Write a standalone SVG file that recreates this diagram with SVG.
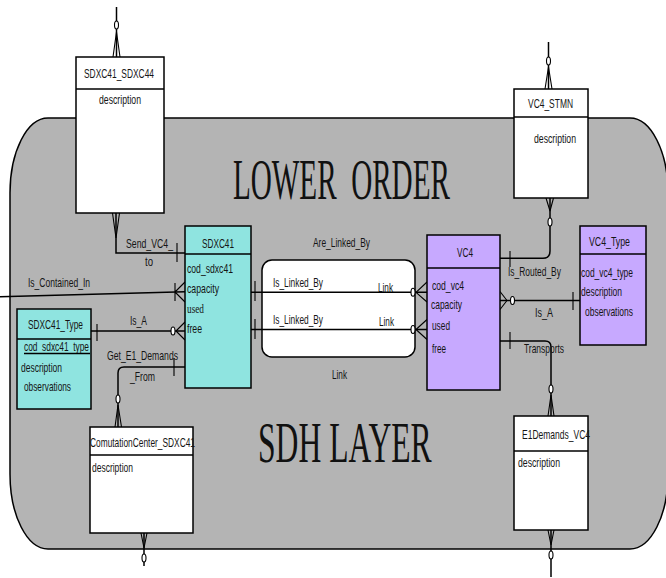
<svg xmlns="http://www.w3.org/2000/svg" width="666" height="578" viewBox="0 0 666 578">
<style>
.bx{stroke:#000;stroke-width:1.5}
.w{fill:#fff}.c{fill:#8fe4e0}.p{fill:#c7a9ff}
.t{font-family:"Liberation Sans",Arial,sans-serif;font-size:13px;fill:#151515}
.s{font-family:"Liberation Serif","Times New Roman",serif;font-size:13px;fill:#151515}
.big{font-family:"Liberation Serif","Times New Roman",serif;font-size:56px;fill:#111;white-space:pre}
.ln{fill:none;stroke:#000;stroke-width:1.5}
.th{fill:none;stroke:#000;stroke-width:1.1}
.o{fill:#fff;stroke:#000;stroke-width:1.1}
</style>
<g id="layer">
<path d="M48 118 H630 A38 75 0 0 1 668 193 V474 A38 75 0 0 1 630 549 H48 A38 75 0 0 1 10 474 V193 A38 75 0 0 1 48 118 Z" fill="#b4b4b4" stroke="#000" stroke-width="1.5"/>
<text class="big" transform="translate(233,199) scale(0.5205,1)" x="0" y="0" xml:space="preserve">LOWER  ORDER</text>
<text class="big" transform="translate(258,462) scale(0.565,1)" x="0" y="0">SDH LAYER</text>
</g>
<g id="Link">
<rect class="bx w" x="262" y="260" width="153" height="97" rx="10" ry="10"/>
<text class="t" x="313" y="246.5" textLength="57" lengthAdjust="spacingAndGlyphs">Are_Linked_By</text>
<text class="t" x="332" y="379" textLength="15" lengthAdjust="spacingAndGlyphs">Link</text>
</g>
<g id="connectors">
<path class="ln" d="M116.5 7 V57"/>
<path class="th" d="M116.5 32 L113 57 M116.5 32 L120 57"/>
<ellipse class="o" cx="116.5" cy="25" rx="2" ry="4"/>
<path class="ln" d="M116 213 V253 H185"/>
<path class="th" d="M116 238 L112.5 213 M116 238 L119.5 213"/>
<path class="th" d="M177 243 V262"/>
<text class="t" x="126" y="248" textLength="47" lengthAdjust="spacingAndGlyphs">Send_VC4_</text>
<text class="t" x="145" y="266" textLength="8" lengthAdjust="spacingAndGlyphs">to</text>
<path class="ln" d="M0 296.7 L185 291.7"/>
<path class="th" d="M175 292 L185 282 M175 292 L185 302 M175 283 V301"/>
<text class="t" x="28" y="287" textLength="62" lengthAdjust="spacingAndGlyphs">Is_Contained_In</text>
<path class="ln" d="M91 331 H185"/>
<path class="th" d="M97 324 V341 M176 331 L185 322 M176 331 L185 340"/>
<ellipse class="o" cx="173" cy="331" rx="2" ry="4"/>
<text class="t" x="130" y="325" textLength="17" lengthAdjust="spacingAndGlyphs">Is_A</text>
<path class="ln" d="M185 367 H124 Q118 367 118 373 V427"/>
<path class="th" d="M174 358 V376 M118 405 L115 427 M118 405 L121.5 427"/>
<ellipse class="o" cx="118" cy="399" rx="2" ry="4"/>
<text class="t" x="107" y="360" textLength="71" lengthAdjust="spacingAndGlyphs">Get_E1_Demands</text>
<text class="t" x="130" y="381" textLength="25" lengthAdjust="spacingAndGlyphs">_From</text>
<path class="ln" d="M144 533 V566"/>
<path class="th" d="M144 548 L141 533 M144 548 L147 533"/>
<ellipse class="o" cx="144" cy="558" rx="2" ry="4"/>
<path class="ln" d="M251 292.3 H427"/>
<path class="th" d="M255 281 V301 M416 292.3 L427 282 M416 292.3 L427 302"/>
<ellipse class="o" cx="413" cy="292.3" rx="2" ry="4"/>
<path class="ln" d="M251 329.5 H427"/>
<path class="th" d="M255 319 V339 M416 329.5 L427 319.5 M416 329.5 L427 339.5"/>
<ellipse class="o" cx="413" cy="329.5" rx="2" ry="4"/>
<text class="t" x="273" y="287" textLength="50" lengthAdjust="spacingAndGlyphs">Is_Linked_By</text>
<text class="t" x="378" y="291.5" textLength="15" lengthAdjust="spacingAndGlyphs">Link</text>
<text class="t" x="273" y="324" textLength="50" lengthAdjust="spacingAndGlyphs">Is_Linked_By</text>
<text class="t" x="379" y="326" textLength="15" lengthAdjust="spacingAndGlyphs">Link</text>
<path class="ln" d="M548.5 42 V89"/>
<path class="th" d="M548.5 67 L545 89 M548.5 67 L552 89"/>
<ellipse class="o" cx="548.5" cy="61" rx="2" ry="4"/>
<path class="ln" d="M500 258.3 H543 Q550 258.3 550 251 V198"/>
<path class="th" d="M550 211 L546 198 M550 211 L553.5 198 M510 251 V267"/>
<ellipse class="o" cx="550" cy="222" rx="2" ry="4"/>
<text class="t" transform="translate(508,276) scale(0.649,1)" x="0" y="0">Is_Routed_By</text>
<path class="ln" d="M500 300.5 H580"/>
<path class="th" d="M507 300.5 L500 291.5 M507 300.5 L500 309.5 M573 292 V310"/>
<ellipse class="o" cx="512.5" cy="300.5" rx="2" ry="4"/>
<text class="t" x="535" y="317" textLength="18" lengthAdjust="spacingAndGlyphs">Is_A</text>
<path class="ln" d="M500 341 H545 Q551 341 551 347 V416"/>
<path class="th" d="M510 332 V349 M551 395 L548 416 M551 395 L554 416"/>
<ellipse class="o" cx="551" cy="389" rx="2" ry="4"/>
<text class="t" x="524" y="353" textLength="40" lengthAdjust="spacingAndGlyphs">Transports</text>
<path class="ln" d="M551 530 V577"/>
<path class="th" d="M551 545 L548 530 M551 545 L554 530"/>
<ellipse class="o" cx="551" cy="555" rx="2" ry="4"/>
</g>
<g id="SDXC41_SDXC44">
<rect class="bx w" x="76" y="57" width="88" height="156"/>
<line class="bx" x1="76" y1="89" x2="164" y2="89"/>
<text class="t" x="84" y="78" textLength="70" lengthAdjust="spacingAndGlyphs">SDXC41_SDXC44</text>
<text class="t" x="99" y="104" textLength="42" lengthAdjust="spacingAndGlyphs">description</text>
</g>
<g id="VC4_STMN">
<rect class="bx w" x="514" y="89" width="74" height="109"/>
<line class="bx" x1="514" y1="117" x2="588" y2="117"/>
<text class="t" x="528" y="108" textLength="45" lengthAdjust="spacingAndGlyphs">VC4_STMN</text>
<text class="t" x="534" y="143" textLength="42" lengthAdjust="spacingAndGlyphs">description</text>
</g>
<g id="SDXC41">
<rect class="bx c" x="185" y="226" width="66" height="162"/>
<line class="bx" x1="185" y1="254" x2="251" y2="254"/>
<text class="t" x="202" y="248" textLength="32" lengthAdjust="spacingAndGlyphs">SDXC41</text>
<text class="t" x="187" y="273" textLength="46" lengthAdjust="spacingAndGlyphs">cod_sdxc41</text>
<text class="t" x="187" y="292.5" textLength="32" lengthAdjust="spacingAndGlyphs">capacity</text>
<text class="s" x="187" y="313" textLength="17" lengthAdjust="spacingAndGlyphs">used</text>
<text class="t" x="187" y="333" textLength="15" lengthAdjust="spacingAndGlyphs">free</text>
</g>
<g id="SDXC41_Type">
<rect class="bx c" x="17" y="309" width="74" height="100"/>
<line class="bx" x1="17" y1="339" x2="91" y2="339"/>
<text class="t" x="28" y="329" textLength="55" lengthAdjust="spacingAndGlyphs">SDXC41_Type</text>
<text class="t" x="24" y="350.5" textLength="65" lengthAdjust="spacingAndGlyphs">cod_sdxc41_type</text>
<line x1="24" y1="353.5" x2="90" y2="353.5" stroke="#000" stroke-width="1.6"/>
<text class="t" x="21" y="371.5" textLength="41" lengthAdjust="spacingAndGlyphs">description</text>
<text class="t" x="24" y="390.5" textLength="47" lengthAdjust="spacingAndGlyphs">observations</text>
</g>
<g id="ComutationCenter_SDXC41">
<rect class="bx w" x="90" y="427" width="103" height="106"/>
<line class="bx" x1="90" y1="455" x2="193" y2="455"/>
<text class="t" x="90" y="446.5" textLength="105" lengthAdjust="spacingAndGlyphs">ComutationCenter_SDXC41</text>
<text class="t" x="92" y="471.5" textLength="41" lengthAdjust="spacingAndGlyphs">description</text>
</g>
<g id="VC4">
<rect class="bx p" x="427" y="235" width="73" height="155"/>
<line class="bx" x1="427" y1="268" x2="500" y2="268"/>
<text class="t" x="457" y="256.5" textLength="16" lengthAdjust="spacingAndGlyphs">VC4</text>
<text class="t" x="432" y="290" textLength="32" lengthAdjust="spacingAndGlyphs">cod_vc4</text>
<text class="t" x="431" y="308.5" textLength="31" lengthAdjust="spacingAndGlyphs">capacity</text>
<text class="t" x="432" y="330" textLength="18" lengthAdjust="spacingAndGlyphs">used</text>
<text class="t" x="432" y="353" textLength="14" lengthAdjust="spacingAndGlyphs">free</text>
</g>
<g id="VC4_Type">
<rect class="bx p" x="580" y="226" width="66" height="119"/>
<line class="bx" x1="580" y1="254" x2="646" y2="254"/>
<text class="t" x="589" y="246" textLength="41" lengthAdjust="spacingAndGlyphs">VC4_Type</text>
<text class="t" x="581" y="277" textLength="52" lengthAdjust="spacingAndGlyphs">cod_vc4_type</text>
<text class="t" x="581" y="295.5" textLength="41" lengthAdjust="spacingAndGlyphs">description</text>
<text class="t" x="585" y="316" textLength="48" lengthAdjust="spacingAndGlyphs">observations</text>
</g>
<g id="E1Demands_VC4">
<rect class="bx w" x="514" y="416" width="74" height="114"/>
<line class="bx" x1="514" y1="451" x2="588" y2="451"/>
<text class="t" x="522" y="439" textLength="68" lengthAdjust="spacingAndGlyphs">E1Demands_VC4</text>
<text class="t" x="518" y="466.5" textLength="42" lengthAdjust="spacingAndGlyphs">description</text>
</g>
</svg>
